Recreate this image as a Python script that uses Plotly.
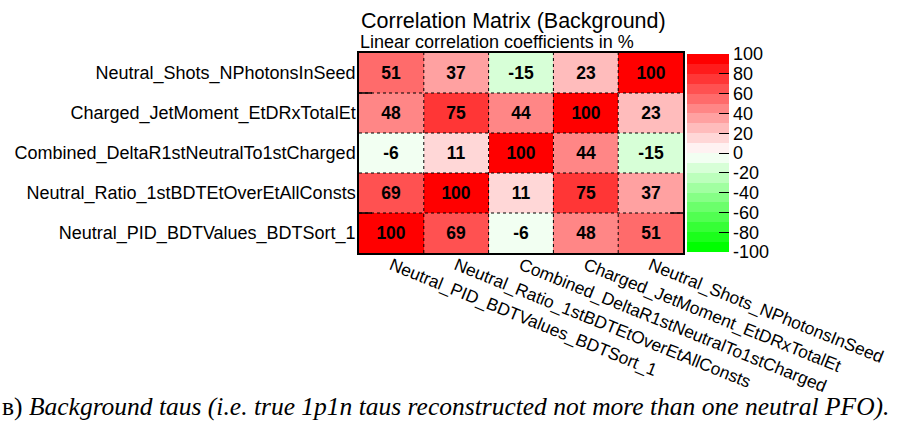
import plotly.graph_objects as go

# ---- data ----
x_labels = [
    "Neutral_PID_BDTValues_BDTSort_1",
    "Neutral_Ratio_1stBDTEtOverEtAllConsts",
    "Combined_DeltaR1stNeutralTo1stCharged",
    "Charged_JetMoment_EtDRxTotalEt",
    "Neutral_Shots_NPhotonsInSeed",
]
y_labels = list(x_labels)  # bottom to top

# rows listed bottom -> top (same order as y_labels)
row_pid = [100, 69, -6, 48, 51]
row_ratio = [69, 100, 11, 75, 37]
row_combined = [-6, 11, 100, 44, -15]
row_charged = [48, 75, 44, 100, 23]
row_shots = [51, 37, -15, 23, 100]
z = [row_pid, row_ratio, row_combined, row_charged, row_shots]

cbar_ticks = [-100, -80, -60, -40, -20, 0, 20, 40, 60, 80, 100]

title_text = "Correlation Matrix (Background)"
subtitle_text = "Linear correlation coefficients in %"
caption_text = "в) <i>Background taus (i.e. true 1p1n taus reconstructed not more than one neutral PFO).</i>"

# ---- style ----
FONT = "Liberation Sans"
n_bands = 20
colorscale = []
for i in range(n_bands):
    t = i / (n_bands - 1)
    if t < 0.5:
        f = (0.5 - t) / 0.5
        c = "rgb(%d,255,%d)" % (round(255 * (1 - f)), round(255 * (1 - f)))
    else:
        f = (t - 0.5) / 0.5
        c = "rgb(255,%d,%d)" % (round(255 * (1 - f)), round(255 * (1 - f)))
    colorscale.append([i / n_bands, c])
    colorscale.append([(i + 1) / n_bands, c])

W, H = 907, 429
L, R, T, B = 359, 224, 53, 176
pw, ph = W - L - R, H - T - B

cell_text = [[str(v) for v in row] for row in z]

fig = go.Figure(
    go.Heatmap(
        z=z,
        x=x_labels,
        y=y_labels,
        zmin=-100,
        zmax=100,
        colorscale=colorscale,
        text=cell_text,
        texttemplate="<b>%{text}</b>",
        textfont=dict(family=FONT, size=17.5, color="black"),
        hoverinfo="skip",
        colorbar=dict(
            thickness=42,
            thicknessmode="pixels",
            len=198 / ph,
            lenmode="fraction",
            x=(687 - L) / pw,
            xanchor="left",
            xpad=0,
            y=0.5,
            yanchor="middle",
            ypad=0,
            outlinewidth=0,
            ticks="inside",
            ticklen=10,
            tickwidth=1,
            tickcolor="black",
            tickvals=cbar_ticks,
            ticktext=[str(v) for v in cbar_ticks],
            tickfont=dict(family=FONT, size=18, color="black"),
        ),
    )
)

# dotted cell separators
shapes = []
n = len(x_labels)
for k in range(1, n):
    shapes.append(dict(type="line", xref="x", yref="y", x0=k - 0.5, x1=k - 0.5,
                       y0=-0.5, y1=n - 0.5, line=dict(color="black", width=1, dash="dot")))
    shapes.append(dict(type="line", xref="x", yref="y", y0=k - 0.5, y1=k - 0.5,
                       x0=-0.5, x1=n - 0.5, line=dict(color="black", width=1, dash="dot")))
# short solid axis ticks on left and right frame
for yb in [0.5, 3.5]:
    shapes.append(dict(type="line", xref="paper", yref="y", x0=0, x1=13 / pw, y0=yb, y1=yb,
                       line=dict(color="black", width=1.5)))
shapes.append(dict(type="line", xref="paper", yref="y", x0=1 - 13 / pw, x1=1, y0=0.5, y1=0.5,
                   line=dict(color="black", width=1.5)))

annotations = [
    dict(text=title_text, xref="paper", yref="paper", x=(359 - L) / pw, y=1 + (T - 27) / ph,
         xanchor="left", yanchor="bottom", showarrow=False, yshift=-8,
         font=dict(family=FONT, size=21.5, color="black")),
    dict(text=subtitle_text, xref="paper", yref="paper", x=(358 - L) / pw, y=1 + (T - 47) / ph,
         xanchor="left", yanchor="bottom", showarrow=False, yshift=-7,
         font=dict(family=FONT, size=18, color="black")),
    dict(text=caption_text, xref="paper", yref="paper", x=(0 - L) / pw, y=-(416 - T - ph) / ph,
         xanchor="left", yanchor="bottom", showarrow=False, yshift=-7,
         font=dict(family="Liberation Serif", size=25.5, color="black")),
]

fig.update_layout(
    width=W,
    height=H,
    margin=dict(l=L, r=R, t=T, b=B, pad=0, autoexpand=False),
    paper_bgcolor="white",
    plot_bgcolor="white",
    shapes=shapes,
    annotations=annotations,
    xaxis=dict(
        type="category",
        range=[-0.5, n - 0.5],
        tickangle=22,
        tickfont=dict(family=FONT, size=17.4, color="black"),
        showline=True, mirror=True, linecolor="black", linewidth=1.5,
        ticks="", showgrid=False, zeroline=False, fixedrange=True,
        automargin=False,
        ticklabelstandoff=-6,
    ),
    yaxis=dict(
        type="category",
        range=[-0.5, n - 0.5],
        tickfont=dict(family=FONT, size=18, color="black"),
        showline=True, mirror=True, linecolor="black", linewidth=1.5,
        ticks="", showgrid=False, zeroline=False, fixedrange=True,
        ticklabelstandoff=-2,
        automargin=False,
    ),
)

fig.write_html("out.html", config={"displayModeBar": False},
               post_script="document.body.style.margin='0';")
